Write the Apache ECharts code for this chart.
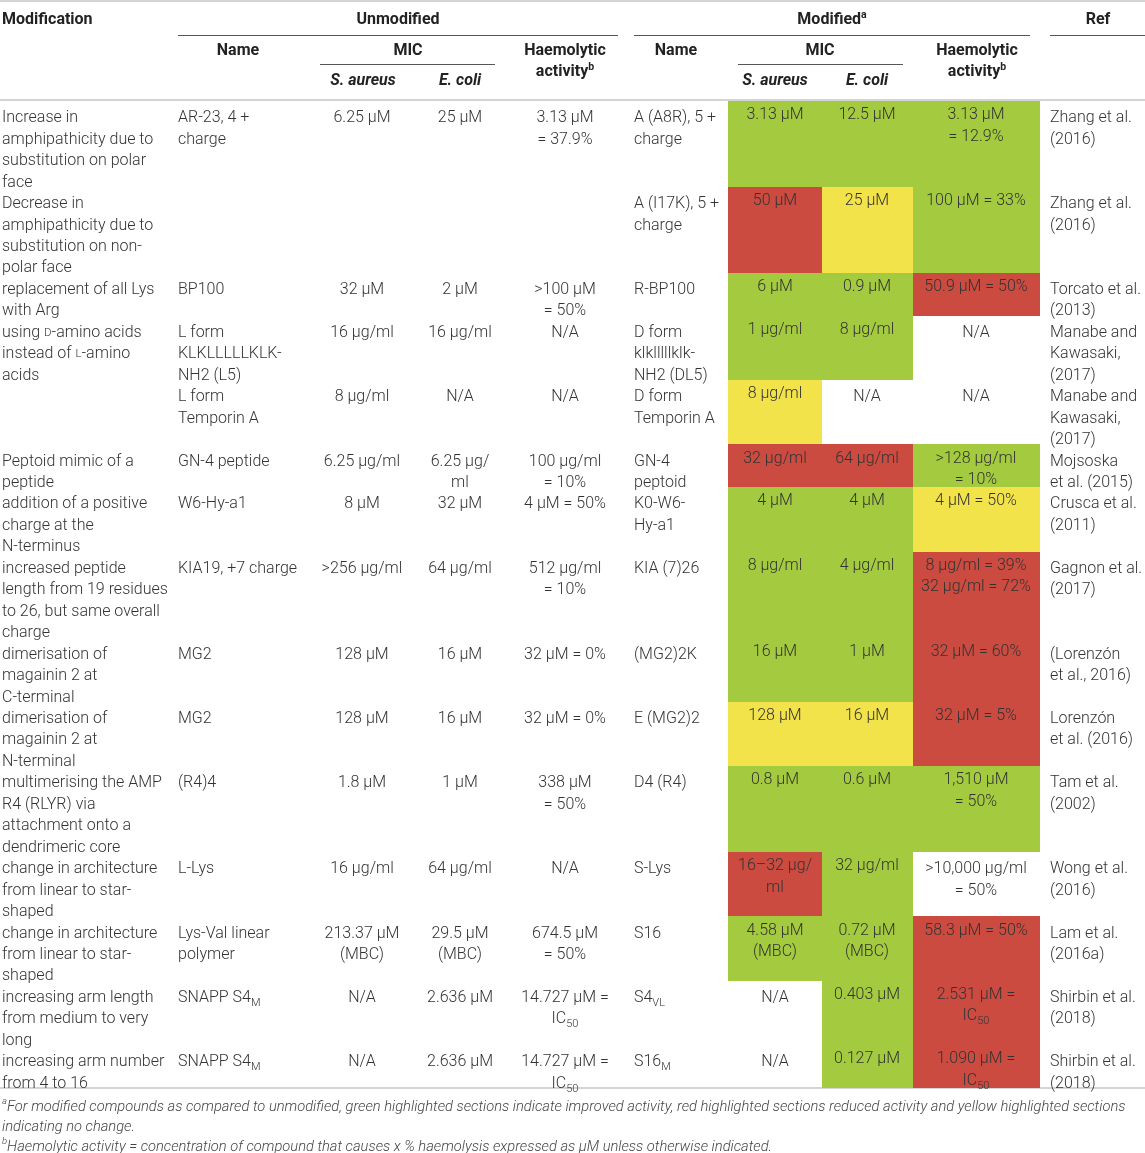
<!DOCTYPE html>
<html><head><meta charset="utf-8">
<script src="https://cdn.jsdelivr.net/npm/echarts@6/dist/echarts.min.js"></script>
<style>html,body{margin:0;padding:0;background:#fff}#c{width:1145px;height:1153px}</style>
</head><body><div id="c"></div>
<script>
// ---------- DATA ----------
const modification = [
  "Increase in\namphipathicity due to\nsubstitution on polar\nface",
  "Decrease in\namphipathicity due to\nsubstitution on non-\npolar face",
  "replacement of all Lys\nwith Arg",
  "using {sc|D}-amino acids\ninstead of {sc|L}-amino\nacids",
  "",
  "Peptoid mimic of a\npeptide",
  "addition of a positive\ncharge at the\nN-terminus",
  "increased peptide\nlength from 19 residues\nto 26, but same overall\ncharge",
  "dimerisation of\nmagainin 2 at\nC-terminal",
  "dimerisation of\nmagainin 2 at\nN-terminal",
  "multimerising the AMP\nR4 (RLYR) via\nattachment onto a\ndendrimeric core",
  "change in architecture\nfrom linear to star-\nshaped",
  "change in architecture\nfrom linear to star-\nshaped",
  "increasing arm length\nfrom medium to very\nlong",
  "increasing arm number\nfrom 4 to 16"
];
const unmodName = ["AR-23, 4 +\ncharge", "", "BP100", "L form\nKLKLLLLLKLK-\nNH2 (L5)", "L form\nTemporin A",
  "GN-4 peptide", "W6-Hy-a1", "KIA19, +7 charge", "MG2", "MG2", "(R4)4", "L-Lys", "Lys-Val linear\npolymer",
  "SNAPP S4{sub|M}", "SNAPP S4{sub|M}"];
const unmodSAureus = ["6.25 μM", "", "32 μM", "16 μg/ml", "8 μg/ml", "6.25 μg/ml", "8 μM", ">256 μg/ml",
  "128 μM", "128 μM", "1.8 μM", "16 μg/ml", "213.37 μM\n(MBC)", "N/A", "N/A"];
const unmodEColi = ["25 μM", "", "2 μM", "16 μg/ml", "N/A", "6.25 μg/\nml", "32 μM", "64 μg/ml",
  "16 μM", "16 μM", "1 μM", "64 μg/ml", "29.5 μM\n(MBC)", "2.636 μM", "2.636 μM"];
const unmodHaem = ["3.13 μM\n= 37.9%", "", ">100 μM\n= 50%", "N/A", "N/A", "100 μg/ml\n= 10%", "4 μM = 50%",
  "512 μg/ml\n= 10%", "32 μM = 0%", "32 μM = 0%", "338 μM\n= 50%", "N/A", "674.5 μM\n= 50%",
  "14.727 μM =\nIC{sub|50}", "14.727 μM =\nIC{sub|50}"];
const modName = ["A (A8R), 5 +\ncharge", "A (I17K), 5 +\ncharge", "R-BP100", "D form\nklklllllklk-\nNH2 (DL5)",
  "D form\nTemporin A", "GN-4\npeptoid", "K0-W6-\nHy-a1", "KIA (7)26", "(MG2)2K", "E (MG2)2", "D4 (R4)",
  "S-Lys", "S16", "S4{sub|VL}", "S16{sub|M}"];
const modSAureus = ["3.13 μM", "50 μM", "6 μM", "1 μg/ml", "8 μg/ml", "32 μg/ml", "4 μM", "8 μg/ml",
  "16 μM", "128 μM", "0.8 μM", "16–32 μg/\nml", "4.58 μM\n(MBC)", "N/A", "N/A"];
const modEColi = ["12.5 μM", "25 μM", "0.9 μM", "8 μg/ml", "N/A", "64 μg/ml", "4 μM", "4 μg/ml",
  "1 μM", "16 μM", "0.6 μM", "32 μg/ml", "0.72 μM\n(MBC)", "0.403 μM", "0.127 μM"];
const modHaem = ["3.13 μM\n= 12.9%", "100 μM = 33%", "50.9 μM = 50%", "N/A", "N/A", ">128 μg/ml\n= 10%",
  "4 μM = 50%", "8 μg/ml = 39%\n32 μg/ml = 72%", "32 μM = 60%", "32 μM = 5%", "1,510 μM\n= 50%",
  ">10,000 μg/ml\n= 50%", "58.3 μM = 50%", "2.531 μM =\nIC{sub|50}", "1.090 μM =\nIC{sub|50}"];
const references = ["Zhang et al.\n(2016)", "Zhang et al.\n(2016)", "Torcato et al.\n(2013)",
  "Manabe and\nKawasaki,\n(2017)", "Manabe and\nKawasaki,\n(2017)", "Mojsoska\net al. (2015)",
  "Crusca et al.\n(2011)", "Gagnon et al.\n(2017)", "(Lorenzón\net al., 2016)", "Lorenzón\net al. (2016)",
  "Tam et al.\n(2002)", "Wong et al.\n(2016)", "Lam et al.\n(2016a)", "Shirbin et al.\n(2018)",
  "Shirbin et al.\n(2018)"];
// change codes: g = improved, r = reduced, y = no change, "" = not highlighted
const modSAureusChange = ["g","r","g","g","y","r","g","g","g","y","g","r","g","",""];
const modEColiChange   = ["g","y","g","g","","r","g","g","g","y","g","g","g","g","g"];
const modHaemChange    = ["g","g","r","","","g","y","r","r","r","g","","r","r","r"];

const footnotes = "{sup|a}For modified compounds as compared to unmodified, green highlighted sections indicate improved activity, red highlighted sections reduced activity and yellow highlighted sections\nindicating no change.\n{sup|b}Haemolytic activity = concentration of compound that causes x % haemolysis expressed as μM unless otherwise indicated.";

// ---------- LAYOUT / STYLE ----------
const FONT = 'Roboto, "Liberation Sans", Arial, sans-serif';
const palette = { g: '#a4cb3f', r: '#cb4b40', y: '#f3e34b' };
const LH = 21.46;
const BODY_SIZE = 16;
const columns = [
  { texts: modification, tx: 2, align: 'left' },
  { texts: unmodName, tx: 178, align: 'left' },
  { texts: unmodSAureus, tx: 362, align: 'center' },
  { texts: unmodEColi, tx: 460, align: 'center' },
  { texts: unmodHaem, tx: 565, align: 'center' },
  { texts: modName, tx: 634, align: 'left' },
  { texts: modSAureus, tx: 775, align: 'center', x0: 728, x1: 822, change: modSAureusChange },
  { texts: modEColi, tx: 867, align: 'center', x0: 822, x1: 913, change: modEColiChange },
  { texts: modHaem, tx: 976, align: 'center', x0: 913, x1: 1040, change: modHaemChange },
  { texts: references, tx: 1050, align: 'left' }
];
const lineCount = s => s ? s.split('\n').length : 1;
const rowLines = modification.map((_, i) => Math.max(...columns.map(c => lineCount(c.texts[i]))));
const rowStart = [];
rowLines.reduce((acc, n, i) => { rowStart[i] = acc; return acc + n; }, 0);
const totalLines = rowLines.reduce((a, b) => a + b, 0);

const bodyRich = {
  sc: { fontSize: 11.5, fontFamily: FONT, fontWeight: 300, fill: '#333' },
  sub: { fontSize: 11, fontFamily: FONT, fontWeight: 300, lineHeight: 12, verticalAlign: 'bottom', fill: '#333' }
};
const cellData = [];
modification.forEach((_, i) => columns.forEach((c, j) => cellData.push([j, i])));

function renderCell(params, api) {
  const j = api.value(0), i = api.value(1);
  const col = columns[j];
  const top = rowStart[i], bot = top + rowLines[i];
  const children = [];
  const code = col.change ? col.change[i] : '';
  if (code) {
    const p0 = api.coord([col.x0, top]);
    const p1 = api.coord([col.x1, bot]);
    const x0 = Math.round(p0[0]), y0 = Math.round(p0[1]);
    children.push({
      type: 'rect',
      shape: { x: x0, y: y0, width: Math.round(p1[0]) - x0, height: Math.round(p1[1]) - y0 },
      style: { fill: palette[code] }
    });
  }
  const t = col.texts[i];
  if (t) {
    const a = api.coord([col.tx, top]);
    children.push({
      type: 'text',
      x: a[0], y: a[1] + (code ? 3.5 : 6.5),
      style: {
        text: t, fill: '#333', fontSize: BODY_SIZE, fontFamily: FONT, fontWeight: 300,
        lineHeight: LH, align: col.align, textAlign: col.align,
        verticalAlign: 'top', textVerticalAlign: 'top', rich: bodyRich
      }
    });
  }
  return { type: 'group', children };
}

// header
const supRich = { sup: { fontSize: 10.5, fontFamily: FONT, fontWeight: 'bold', lineHeight: 10, verticalAlign: 'top', fill: '#222' } };
function hText(text, x, y, align, extra) {
  return {
    type: 'text', x, y, silent: true,
    style: Object.assign({
      text, fill: '#222', fontSize: 16, fontFamily: FONT, fontWeight: 'bold', lineHeight: 21,
      align, textAlign: align, verticalAlign: 'middle', textVerticalAlign: 'middle', rich: supRich
    }, extra || {})
  };
}
function hLine(x1, y, x2, color, w) {
  return { type: 'line', silent: true, shape: { x1, y1: y, x2, y2: y }, style: { stroke: color, lineWidth: w } };
}
const graphics = [
  hLine(0, 1, 1145, '#d4d4d4', 2),
  hLine(178, 35.5, 618, '#555', 1), hLine(634, 35.5, 1030, '#555', 1), hLine(1050, 35.5, 1145, '#555', 1),
  hLine(320, 64.5, 495, '#555', 1), hLine(738, 64.5, 903, '#555', 1),
  hLine(0, 100, 1145, '#d4d4d4', 2),
  hLine(0, 1088, 1145, '#d4d4d4', 2),
  hText('Modification', 2, 20, 'left'),
  hText('Unmodified', 398, 20, 'center'),
  hText('Modified{sup|a}', 832, 20, 'center'),
  hText('Ref', 1098, 20, 'center'),
  hText('Name', 238, 51, 'center'),
  hText('MIC', 408, 51, 'center'),
  hText('Haemolytic\nactivity{sup|b}', 565, 61.5, 'center'),
  hText('S. aureus', 363, 81, 'center', { fontStyle: 'italic' }),
  hText('E. coli', 460, 81, 'center', { fontStyle: 'italic' }),
  hText('Name', 676, 51, 'center'),
  hText('MIC', 820, 51, 'center'),
  hText('Haemolytic\nactivity{sup|b}', 977, 61.5, 'center'),
  hText('S. aureus', 775, 81, 'center', { fontStyle: 'italic' }),
  hText('E. coli', 867, 81, 'center', { fontStyle: 'italic' }),
  {
    type: 'text', x: 2, y: 1097, silent: true,
    style: {
      text: footnotes, fill: '#444', fontSize: 14.7, fontStyle: 'italic', fontFamily: FONT, fontWeight: 300,
      lineHeight: 20, align: 'left', textAlign: 'left', verticalAlign: 'top', textVerticalAlign: 'top',
      rich: { sup: { fontSize: 9.5, fontStyle: 'italic', fontFamily: FONT, fontWeight: 300, lineHeight: 10, verticalAlign: 'top', fill: '#444' } }
    }
  }
];

const chart = echarts.init(document.getElementById('c'), null, { renderer: 'canvas' });
chart.setOption({
  animation: false,
  backgroundColor: '#fff',
  grid: { left: 0, right: 0, top: 101, bottom: 65 },
  xAxis: { type: 'value', min: 0, max: 1145, show: false },
  yAxis: { type: 'value', min: 0, max: totalLines, inverse: true, show: false },
  graphic: graphics,
  series: [{
    type: 'custom',
    coordinateSystem: 'cartesian2d',
    renderItem: renderCell,
    data: cellData,
    encode: { x: 0, y: 1 },
    silent: true,
    clip: false
  }]
});
</script>
</body></html>
